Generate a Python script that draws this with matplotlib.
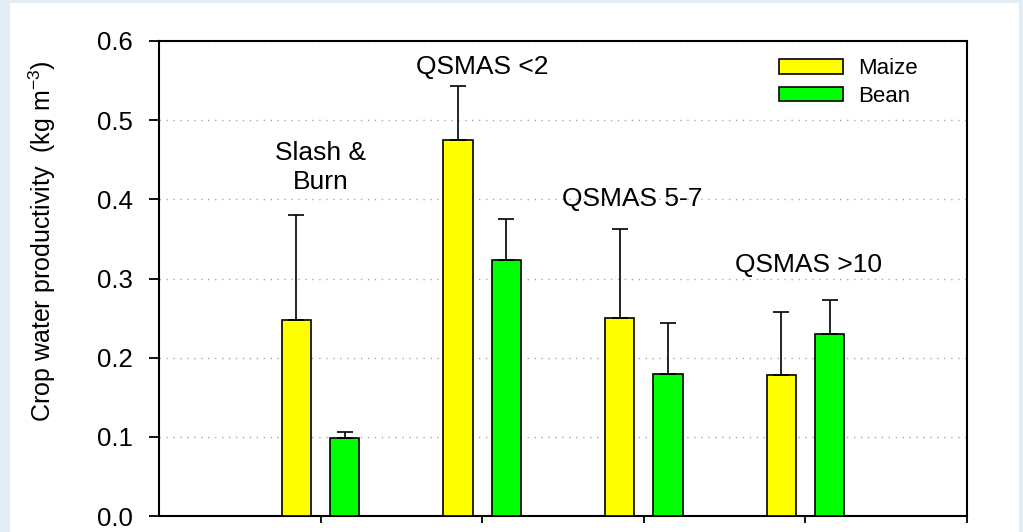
import numpy as np
import matplotlib.pyplot as plt
from matplotlib.patches import Rectangle

plt.rcParams['font.family'] = ['Liberation Sans', 'DejaVu Sans']

# crop water productivity per system (kg m-3), upper error only
systems = ['Slash &\nBurn', 'QSMAS <2', 'QSMAS 5-7', 'QSMAS >10']
maize = [0.247, 0.475, 0.250, 0.178]
maize_err = [0.133, 0.068, 0.113, 0.080]
bean = [0.098, 0.323, 0.180, 0.230]
bean_err = [0.008, 0.052, 0.064, 0.043]

# label anchors (x, y) in data units
label_pos = [(1.0, 0.44), (2.0, 0.567), (2.93, 0.40), (4.02, 0.317)]

fig = plt.figure(figsize=(10.23, 5.32), dpi=100, facecolor='#e3ecf3')
fig.add_artist(Rectangle((10 / 1023, 0), 1009 / 1023, 529 / 532,
                         transform=fig.transFigure, facecolor='white',
                         edgecolor='none', zorder=-1))
ax = fig.add_axes([159 / 1023, 16 / 532, 808 / 1023, 475 / 532])

x = np.arange(1, len(systems) + 1)
w = 0.18
err_kw = dict(elinewidth=1.2, capsize=6, capthick=1.2, ecolor='black')
ax.bar(x - 0.15, maize, w, color='#ffff00', edgecolor='black', linewidth=1.2,
       yerr=[np.zeros(len(maize)), maize_err], error_kw=err_kw, label='Maize', zorder=3)
ax.bar(x + 0.15, bean, w, color='#00ff00', edgecolor='black', linewidth=1.2,
       yerr=[np.zeros(len(bean)), bean_err], error_kw=err_kw, label='Bean', zorder=3)

for name, (tx, ty) in zip(systems, label_pos):
    ax.text(tx, ty, name, ha='center', va='center', fontsize=19, linespacing=1.25)

ax.set_xlim(0, 5)
ax.set_ylim(0, 0.6)
ax.set_xticks(range(1, 6))
ax.set_xticklabels([])
ax.set_yticks(np.arange(0, 0.61, 0.1))
ax.set_yticklabels([f'{v:.1f}' for v in np.arange(0, 0.61, 0.1)], fontsize=18.5)
ax.tick_params(axis='y', direction='out', length=7, width=1.3, pad=12)
ax.tick_params(axis='x', direction='out', length=5, width=1.3)
ax.yaxis.grid(True, linestyle=(0, (1, 4)), color='#a8a8a8', linewidth=1.0)
ax.set_axisbelow(True)
for s in ax.spines.values():
    s.set_linewidth(1.5)

ax.set_ylabel('Crop water productivity  (kg m$^{\\mathregular{-3}}$)', fontsize=18)
ax.yaxis.set_label_coords(-0.125, 0.579)

ax.legend(loc='upper left', bbox_to_anchor=(0.767, 0.964), frameon=False,
          fontsize=16, handlelength=2.9, handleheight=0.63, labelspacing=0.3,
          handletextpad=0.68, borderpad=0, borderaxespad=0)

fig.savefig('out.png', dpi=100, facecolor=fig.get_facecolor())
